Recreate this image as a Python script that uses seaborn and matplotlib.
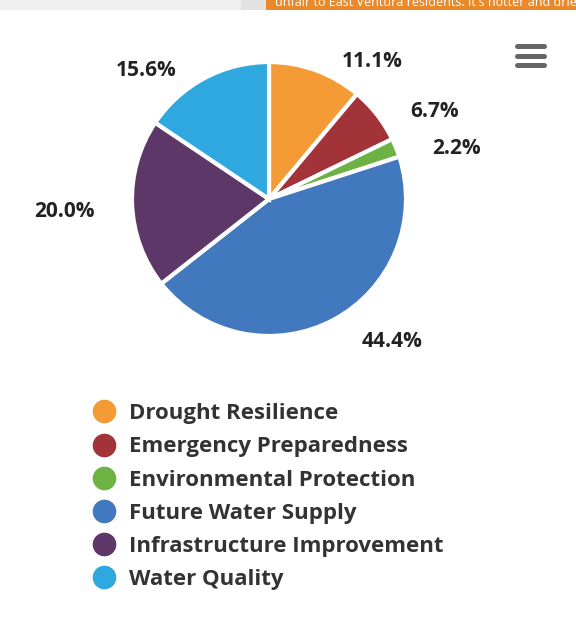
import matplotlib
matplotlib.use("Agg")
import matplotlib.pyplot as plt
from matplotlib.lines import Line2D
from matplotlib.patches import Rectangle
import seaborn as sns

# data
categories = ["Drought Resilience", "Emergency Preparedness", "Environmental Protection",
              "Future Water Supply", "Infrastructure Improvement", "Water Quality"]
shares = [11.1, 6.7, 2.2, 44.4, 20.0, 15.6]
slice_colors = ["#F59B36", "#A23439", "#6CB344", "#4279BE", "#5C3768", "#2EA8DE"]
banner_text = "unfair to East Ventura residents. It's hotter and drier"

sns.set_theme(style="white")
plt.rcParams['font.family'] = ['Open Sans', 'DejaVu Sans']
palette = sns.color_palette(slice_colors)

W, H = 576, 623
fig = plt.figure(figsize=(W / 100, H / 100), dpi=100, facecolor="white")

# pie centre / radius in pixels
cx, cy, R = 269, 199, 137
ax = fig.add_axes([(cx - R) / W, 1 - (cy + R) / H, 2 * R / W, 2 * R / H])
wedges, texts = ax.pie(shares, colors=palette, startangle=90, counterclock=False,
                       labels=[f"{v:.1f}%" for v in shares], labeldistance=1.12,
                       wedgeprops=dict(edgecolor="white", linewidth=3),
                       textprops=dict(fontsize=15, fontweight="bold", color="#222222"))
for t in texts:
    x, y = t.get_position()
    t.set_position((x + (0.15 if x > 0 else -0.15), y - 0.05))
ax.set_xlim(-1, 1)
ax.set_ylim(-1, 1)
ax.set_aspect("equal")
ax.axis("off")

# legend below the pie
handles = [Line2D([0], [0], marker="o", linestyle="", markersize=16,
                  markerfacecolor=c, markeredgecolor=c) for c in palette]
leg = fig.legend(handles, categories, loc="upper left",
                 bbox_to_anchor=(80 / W, 1 - 392 / H), frameon=False,
                 prop=dict(size=16, weight="bold"), labelspacing=0.55,
                 handletextpad=0.5, handlelength=1.2, borderpad=0)
for txt in leg.get_texts():
    txt.set_color("#333333")

# hamburger menu icon
for yy in (46, 56, 65):
    fig.add_artist(Line2D([517 / W, 544 / W], [1 - yy / H, 1 - yy / H],
                          color="#666666", linewidth=3.6, solid_capstyle="round"))

# cut-off page banner at the very top
bh = 10 / H
fig.add_artist(Rectangle((0, 1 - bh), 241 / W, bh, transform=fig.transFigure,
                         facecolor="#F0F0F0", edgecolor="none"))
fig.add_artist(Rectangle((241 / W, 1 - bh), 25 / W, bh, transform=fig.transFigure,
                         facecolor="#E2E2E2", edgecolor="none"))
ban = fig.add_axes([266 / W, 1 - bh, 310 / W, bh])
ban.set_facecolor("#E8892B")
ban.set_xticks([]); ban.set_yticks([])
for s in ban.spines.values():
    s.set_visible(False)
ban.text(0.03, 0.15, banner_text, transform=ban.transAxes, color="white",
         fontsize=9, va="bottom", ha="left", clip_on=True)

fig.savefig("out.png", dpi=100, facecolor="white")
